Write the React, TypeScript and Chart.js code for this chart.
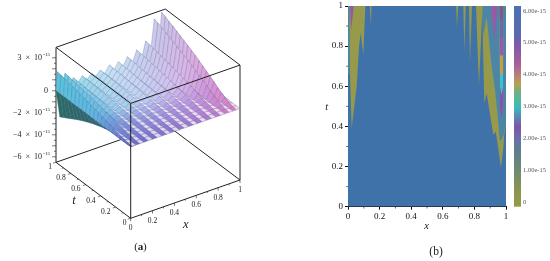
import React, { useEffect, useRef } from "react";
import { Chart, registerables } from "chart.js";

Chart.register(...registerables);

const SERIF = "'Liberation Serif'";

// ---------- panel (a): surface ----------
const tRows = [0, .05, .1, .15, .2, .25, .3, .35, .4, .45, .5, .55, .6, .65, .7, .75, .8, .85, .9, .95, 1];
const ridgeX = [.012, .082, .158, .24, .327, .403, .488, .57, .652, .738, .82, .899, .966];
const valleyX = [.047, .12, .2, .284, .365, .445, .53, .61, .695, .78, .86, .933, 1];
const ridge0 = [0, .02, .08, .15, .24, .34, .46, .56, .66, .76, .86, .96, 1.05, 1.13, 1.22, 1.30, 1.39, 1.47, 1.54, 1.62, 1.69];
const ridge1 = [0, .01, .07, .12, .18, .26, .35, .43, .51, .59, .67, .75, .81, .88, .94, 1.01, 1.07, 1.14, 1.19, 1.26, 1.31];
const ridge2 = [0, .01, .03, .06, .09, .13, .17, .21, .25, .29, .33, .36, .40, .43, .46, .49, .52, .56, .58, .61, .64];
const ridge3 = [0, .01, .03, .05, .08, .11, .15, .18, .21, .24, .28, .31, .33, .36, .39, .42, .44, .47, .49, .52, .54];
const ridge4 = [0, 0, .02, .04, .06, .09, .12, .15, .18, .20, .23, .26, .28, .30, .32, .35, .37, .39, .41, .43, .45];
const ridge5 = [0, 0, .02, .04, .07, .10, .13, .16, .19, .22, .25, .28, .30, .33, .35, .38, .40, .43, .45, .47, .49];
const ridge6 = [0, .01, .03, .06, .09, .13, .18, .21, .25, .29, .33, .37, .40, .44, .47, .50, .53, .57, .59, .62, .65];
const ridge7 = [0, .01, .03, .06, .09, .13, .18, .22, .26, .30, .34, .38, .41, .44, .48, .51, .54, .57, .60, .63, .66];
const ridge8 = [0, .01, .04, .07, .12, .17, .22, .27, .32, .37, .42, .47, .51, .56, .60, .64, .68, .72, .76, .80, .83];
const ridge9 = [0, .01, .06, .10, .16, .23, .31, .38, .44, .51, .58, .65, .71, .76, .82, .88, .93, .99, 1.04, 1.09, 1.14];
const ridge10 = [0, .02, .08, .15, .23, .33, .45, .55, .65, .75, .85, .95, 1.04, 1.12, 1.20, 1.29, 1.37, 1.45, 1.52, 1.60, 1.67];
const ridge11 = [0, .03, .17, .31, .48, .68, .92, 1.12, 1.33, 1.53, 1.73, 1.94, 2.11, 2.28, 2.45, 2.62, 2.79, 2.96, 3.09, 3.26, 3.40];
const ridge12 = [0, .04, .19, .34, .53, .75, 1.02, 1.24, 1.47, 1.70, 1.92, 2.15, 2.34, 2.53, 2.71, 2.90, 3.09, 3.28, 3.43, 3.62, 3.77];
const ridges = [ridge0, ridge1, ridge2, ridge3, ridge4, ridge5, ridge6, ridge7, ridge8, ridge9, ridge10, ridge11, ridge12];
const valleyZ = [0, 0, 0, 0, 0, .01, .01, .01, .02, .02, .02, .02, .03, .03, .03, .03, .03, .04, .04, .04, .04];
const cliffX = .035;
const cliffZ = [0, -.01, -.04, -.09, -.15, -.22, -.31, -.4, -.5, -.6, -.72, -.85, -1.0, -1.15, -1.32, -1.5, -1.7, -1.9, -2.1, -2.3, -2.5];

const xTicks = [0, .2, .4, .6, .8, 1];
const xLabels = ["0", "0.2", "0.4", "0.6", "0.8", "1"];
const zTickVals = [3, -2, -4, -6];
const zTickText = ["3", "\u22122", "\u22124", "\u22126"];

const colourT = [0, .25, .5, 1];
const colourX = [0, .25, .5, .75, 1];
const colourRows = [
  [[110, 100, 195], [125, 110, 205], [150, 115, 205], [180, 120, 205], [215, 125, 195]],
  [[105, 140, 215], [140, 140, 220], [165, 145, 225], [190, 145, 220], [220, 145, 210]],
  [[93, 182, 224], [160, 205, 240], [196, 208, 245], [212, 190, 238], [222, 165, 220]],
  [[85, 196, 220], [168, 224, 240], [200, 226, 244], [196, 208, 236], [205, 196, 232]],
];
const cliffTop = [44, 106, 104];
const cliffLow = [58, 90, 128];

// Axes box of the projection, on the panel's own pixel-sized scales.
const O = { x: 130.7, y: 218.3 };
const UX = { x: 109.3, y: -38.3 };
const UT = { x: -74.7, y: -56 };
const ZMIN = -6.5;
const ZMAX = 3.95;
const ZS = 11;

function project(x: number, t: number, z: number) {
  return {
    x: O.x + UX.x * x + UT.x * t,
    y: O.y + UX.y * x + UT.y * t - (z - ZMIN) * ZS,
  };
}
function lerp(a: number, b: number, f: number) { return a + (b - a) * f; }
function surfaceColour(x: number, t: number) {
  const band = (arr: number[], v: number) => {
    let i = 0;
    while (i < arr.length - 2 && v > arr[i + 1]) i++;
    return [i, (v - arr[i]) / (arr[i + 1] - arr[i])];
  };
  const [ti, tf] = band(colourT, t);
  const [xi, xf] = band(colourX, x);
  const out: number[] = [];
  for (let c = 0; c < 3; c++) {
    const a = lerp(colourRows[ti][xi][c], colourRows[ti][xi + 1][c], xf);
    const b = lerp(colourRows[ti + 1][xi][c], colourRows[ti + 1][xi + 1][c], xf);
    out.push(lerp(a, b, tf));
  }
  return out;
}
const css = (c: number[], a = 1) => `rgba(${c.map((v) => Math.round(v)).join(",")},${a})`;
const mix = (c: number[], d: number[], f: number) => c.map((v, i) => lerp(v, d[i], f));

function surfaceDatasets() {
  type L = { x: number; z: number[] };
  const lines: L[] = [{ x: 0, z: valleyZ }];
  ridgeX.forEach((x, i) => {
    lines.push({ x, z: ridges[i] });
    lines.push({ x: valleyX[i], z: valleyZ });
  });
  const list: any[] = [];
  const poly = (pts: { x: number; y: number }[], fill: string, stroke: string, w: number) => {
    list.push({
      data: [...pts, pts[0]],
      fill: "shape",
      backgroundColor: fill,
      borderColor: stroke,
      borderWidth: w,
      pointRadius: 0,
      tension: 0,
    });
  };
  // underside cliff, behind everything
  for (let j = tRows.length - 2; j >= 0; j--) {
    const t0 = tRows[j], t1 = tRows[j + 1];
    const c = mix(cliffTop, cliffLow, 1 - t1);
    poly(
      [project(0, t0, valleyZ[j]), project(0, t1, valleyZ[j + 1]), project(cliffX, t1, cliffZ[j + 1]), project(cliffX, t0, cliffZ[j])],
      css(c), css(c), 0.4
    );
  }
  for (let j = tRows.length - 2; j >= 0; j--) {
    const t0 = tRows[j], t1 = tRows[j + 1];
    for (let k = lines.length - 2; k >= 0; k--) {
      const a = lines[k], b = lines[k + 1];
      const rising = k % 2 === 0;
      const base = surfaceColour((a.x + b.x) / 2, (t0 + t1) / 2);
      const shade = rising ? base : mix(base, [255, 255, 255], 0.72);
      poly(
        [project(a.x, t0, a.z[j]), project(a.x, t1, a.z[j + 1]), project(b.x, t1, b.z[j + 1]), project(b.x, t0, b.z[j])],
        css(shade), css(mix(base, [70, 70, 120], 0.5), 0.85), 0.45
      );
    }
  }
  return list.reverse();
}

// ---------- panel (b): contour regions, lower edges hanging from t = 1 ----------
const BLUE = "#3f72a8";
const OLIVE = "#969a4a";
const TEAL = "#4c86a6";
const backX = [0, 1];
const backT = [0, 0];
const leftStripX = [0, .012];
const leftStripT = [.66, .66];
const oliveLeftX = [.008, .013, .023, .055, .07, .08, .097, .11, .138, .145, .15];
const oliveLeftT = [1, .65, .39, .6, .8, .865, .756, 1, 1, .9, 1];
const oliveRightX = [.684, .69, .697, .73, .736, .745, .766, .772, .785, .81, .829, .851, .853, .863, .878, .899, .92, .935, .951, .968, .983, .989, 1];
const oliveRightT = [1, .89, 1, 1, .772, 1, 1, .716, 1, 1, .6, 1, .84, .515, .565, .457, .357, .374, .291, .194, .291, .357, .42];
const tealX = [.851, .853, .878, .909, .93, .951, .96, .97, .985, 1];
const tealT = [1, .84, .947, .698, .585, .424, .332, .33, .36, .42];
const magentaLeftX = [.012, .02, .037];
const magentaLeftT = [1, .88, 1];
const magentaRightX = [.905, .926, .945];
const magentaRightT = [1, .82, 1];
const colX = [.958, .961, .972, .982, .983];
const colPurple = [1, .49, .445, .5, 1];
const colCyan = [1, .6, .555, .6, 1];
const colGold = [1, .665, .656, .665, 1];
const colMagenta = [1, .76, .75, .76, 1];
const colBlue = [1, .84, .835, .84, 1];
const colMauve = [1, .935, .93, .935, 1];

const tickVals = [0, .2, .4, .6, .8, 1];
const minorVals = [.1, .3, .5, .7, .9];
const barLabels = ["0", "1.00e-15", "2.00e-15", "3.00e-15", "4.00e-15", "5.00e-15", "6.00e-15"];
const barStops: [number, string][] = [
  [0, "#4a70b8"], [.14, "#5a68b0"], [.2, "#7f5aa8"], [.29, "#a85f98"], [.345, "#b8807a"], [.39, "#b4a44c"],
  [.42, "#7cae78"], [.505, "#38bcbc"], [.6, "#7c55a8"], [.66, "#6c6fa8"], [.72, "#5c7e90"], [.82, "#6f8a6e"], [.92, "#8c9550"], [1, "#969a48"],
];

function hang(xs: number[], ts: number[], colour: string) {
  return {
    data: xs.map((x, i) => ({ x, y: ts[i] })),
    fill: "end",
    backgroundColor: colour,
    borderWidth: 0,
    pointRadius: 0,
    tension: 0,
  };
}

function panelA(canvas: HTMLCanvasElement) {
  const seg = (c: CanvasRenderingContext2D, a: any, b: any) => {
    c.beginPath(); c.moveTo(a.x, a.y); c.lineTo(b.x, b.y); c.stroke();
  };
  const back = {
    id: "boxBack",
    beforeDatasetsDraw(chart: any) {
      const c = chart.ctx;
      c.save(); c.strokeStyle = "#222"; c.lineWidth = 1;
      seg(c, project(0, 1, ZMIN), project(1, 1, ZMIN));
      seg(c, project(1, 0, ZMIN), project(1, 1, ZMIN));
      seg(c, project(0, 1, ZMAX), project(1, 1, ZMAX));
      seg(c, project(1, 1, ZMAX), project(1, 0, ZMAX));
      seg(c, project(0, 1, ZMIN), project(0, 1, ZMAX));
      seg(c, project(1, 0, ZMIN), project(1, 0, ZMAX));
      c.restore();
    },
  };
  const front = {
    id: "boxFront",
    afterDatasetsDraw(chart: any) {
      const c = chart.ctx;
      c.save(); c.strokeStyle = "#222"; c.fillStyle = "#222"; c.lineWidth = 1;
      seg(c, project(0, 1, ZMAX), project(0, 0, ZMAX));
      seg(c, project(0, 0, ZMAX), project(1, 0, ZMAX));
      seg(c, project(0, 0, ZMAX), project(0, 0, ZMIN));
      seg(c, project(0, 0, ZMIN), project(1, 0, ZMIN));
      seg(c, project(0, 0, ZMIN), project(0, 1, ZMIN));
      c.lineWidth = .6;
      // ticks
      for (let v = 0; v <= 10; v++) {
        const len = v % 2 ? 1.6 : 3;
        const p = project(v / 10, 0, ZMIN);
        seg(c, p, { x: p.x, y: p.y + len });
        const q = project(0, v / 10, ZMIN);
        seg(c, q, { x: q.x - len, y: q.y + len * .3 });
      }
      for (let z = -6; z <= 3; z += .5) {
        const p = project(0, 1, z);
        seg(c, p, { x: p.x - (Number.isInteger(z) ? 4 : 2), y: p.y });
      }
      c.textBaseline = "middle";
      c.textAlign = "center";
      c.font = `7.5px ${SERIF}`;
      xTicks.forEach((v, i) => {
        const p = project(v, 0, ZMIN);
        c.fillText(xLabels[i], p.x, p.y + 10);
        const q = project(0, v, ZMIN);
        const dx = xLabels[i].length > 1 ? -10 : -6;
        c.fillText(xLabels[i], q.x + dx, q.y + 4.8);
      });
      // z labels
      zTickVals.forEach((z, i) => {
        const p = project(0, 1, z);
        c.textAlign = "right";
        c.font = `5px ${SERIF}`;
        c.fillText("-15", 50, p.y - 3);
        c.font = `8px ${SERIF}`;
        c.fillText(`${zTickText[i]}  \u00d7  10`, 42, p.y);
      });
      c.textAlign = "right";
      c.font = `8px ${SERIF}`;
      c.fillText("0", project(0, 1, 0).x - 8, project(0, 1, 0).y);
      c.textAlign = "center";
      c.font = `italic 12.5px ${SERIF}`;
      c.fillText("t", 74, 201);
      c.fillText("x", 185.7, 225);
      c.font = `11px ${SERIF}`;
      c.fillText("(", 136, 247);
      c.fillText(")", 144.8, 247);
      c.font = `bold 11px ${SERIF}`;
      c.fillText("a", 140.4, 247);
      c.restore();
    },
  };
  return new Chart(canvas, {
    type: "line",
    data: { datasets: surfaceDatasets() },
    options: {
      animation: false,
      responsive: false,
      layout: { padding: 0 },
      plugins: { legend: { display: false }, tooltip: { enabled: false } },
      scales: {
        x: { type: "linear", display: false, min: 0, max: 275 },
        y: { type: "linear", display: false, min: 0, max: 261, reverse: true },
      },
    },
    plugins: [back, front],
  } as any);
}

function panelB(canvas: HTMLCanvasElement) {
  const deco = {
    id: "deco",
    afterDraw(chart: any) {
      const c = chart.ctx;
      const { top, bottom, left, right } = chart.chartArea;
      c.save();
      // minor ticks
      c.strokeStyle = "#222"; c.lineWidth = .7;
      minorVals.forEach((v) => {
        const px = chart.scales.x.getPixelForValue(v);
        c.beginPath(); c.moveTo(px, bottom); c.lineTo(px, bottom + 1.8); c.stroke();
        const py = chart.scales.y.getPixelForValue(v);
        c.beginPath(); c.moveTo(left, py); c.lineTo(left - 1.8, py); c.stroke();
      });
      // colour bar
      const g = c.createLinearGradient(0, top, 0, bottom);
      barStops.forEach(([o, col]) => g.addColorStop(o, col));
      c.fillStyle = g;
      c.fillRect(right + 8, top, 7, bottom - top);
      // titles
      c.fillStyle = "#222";
      c.textAlign = "center"; c.textBaseline = "middle";
      c.font = `italic 10.5px ${SERIF}`;
      c.fillText("t", 51.7, 107);
      c.fillText("x", 151.7, 226.7);
      c.font = `11.5px ${SERIF}`;
      c.fillText("(b)", 161, 252);
      c.restore();
    },
  };
  const series = [
    { ...hang(backX, backT, BLUE) },
    hang(leftStripX, leftStripT, TEAL),
    hang(oliveLeftX, oliveLeftT, OLIVE),
    hang(magentaLeftX, magentaLeftT, "#8f5aa6"),
    hang(oliveRightX, oliveRightT, OLIVE),
    hang(tealX, tealT, TEAL),
    hang(magentaRightX, magentaRightT, "#985aa6"),
    hang(colX, colPurple, "#8c52a8"),
    hang(colX, colCyan, "#38c4c8"),
    hang(colX, colGold, "#c49e44"),
    hang(colX, colMagenta, "#a058a6"),
    hang(colX, colBlue, "#6a6aa8"),
    hang(colX, colMauve, "#7e5a80"),
  ];
  const axis = {
    type: "linear", min: 0, max: 1,
    border: { color: "#111", width: 1 },
    grid: { drawOnChartArea: false, tickLength: 3, tickColor: "#111" },
  };
  const tickFont = { family: "Liberation Serif", size: 9 };
  const label = (v: number) => (tickVals.includes(Math.round(v * 10) / 10) ? String(Math.round(v * 10) / 10) : "");
  return new Chart(canvas, {
    type: "line",
    data: { datasets: series.reverse() },
    options: {
      animation: false,
      responsive: false,
      layout: { padding: { top: 6, bottom: 0, left: 0, right: 0 } },
      plugins: { legend: { display: false }, tooltip: { enabled: false } },
      scales: {
        x: {
          ...axis,
          ticks: { stepSize: .2, color: "#111", font: tickFont, padding: 2, maxRotation: 0, callback: label },
          afterFit: (s: any) => { s.height = 54.3; s.paddingLeft = 0; s.paddingRight = 0; },
        },
        y: {
          ...axis,
          ticks: { stepSize: .2, color: "#111", font: tickFont, padding: 2, callback: label },
          afterFit: (s: any) => { s.width = 73; s.paddingTop = 0; s.paddingBottom = 0; },
        },
        c: {
          type: "linear", axis: "y", position: "right", min: -.125, max: 6.15,
          border: { display: false },
          grid: { display: false, drawTicks: false },
          ticks: {
            stepSize: 1, includeBounds: false, color: "#555", padding: 17,
            font: { family: "Liberation Serif", size: 6.5 },
            callback: (v: number) => barLabels[Math.round(v)] ?? "",
          },
          afterFit: (s: any) => { s.width = 44; s.paddingTop = 0; s.paddingBottom = 0; },
        },
      },
    },
    plugins: [deco],
  } as any);
}

export default function App() {
  const a = useRef<HTMLCanvasElement>(null);
  const b = useRef<HTMLCanvasElement>(null);
  useEffect(() => {
    document.body.style.margin = "0";
    document.body.style.background = "#fff";
    const ca = panelA(a.current!);
    const cb = panelB(b.current!);
    return () => { ca.destroy(); cb.destroy(); };
  }, []);
  const common = { position: "absolute", top: 0, filter: "blur(0.3px)" } as React.CSSProperties;
  return (
    <div style={{ position: "relative", width: 550, height: 261, overflow: "hidden", background: "#fff" }}>
      <canvas ref={a} width={275} height={261} style={{ ...common, left: 0, width: 275, height: 261 }} />
      <canvas ref={b} width={275} height={261} style={{ ...common, left: 275, width: 275, height: 261 }} />
    </div>
  );
}
